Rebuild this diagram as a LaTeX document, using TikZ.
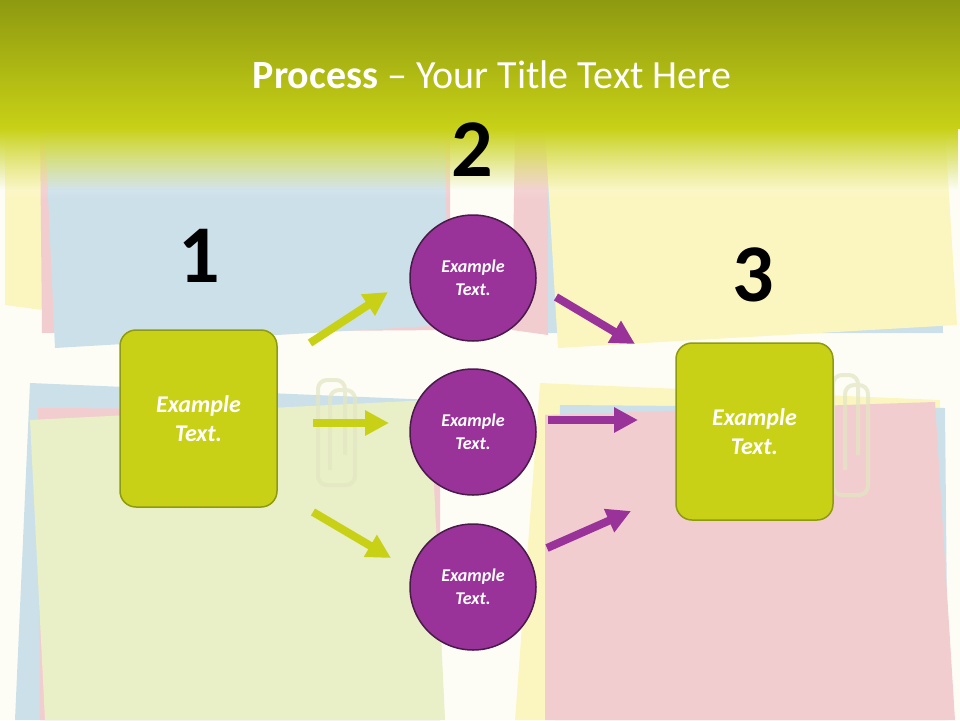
\documentclass[tikz,border=0pt]{standalone}
\usepackage{fontspec}
\setmainfont{Carlito}
\usetikzlibrary{arrows.meta,fadings}
\definecolor{lime}{HTML}{C8D116}
\definecolor{olive}{HTML}{8E9A10}
\definecolor{purp}{HTML}{993399}
\definecolor{dpurp}{HTML}{4A1A4A}
\definecolor{nyel}{HTML}{FBF6BF}
\definecolor{nblu}{HTML}{CCE0EA}
\definecolor{npnk}{HTML}{F2CDCF}
\definecolor{ngrn}{HTML}{E9EFC6}
\tikzset{
 sqbox/.style={draw=olive,line width=1.5pt,fill=lime,rounded corners=16pt,minimum width=157pt,minimum height=177pt,text=white,font=\bfseries\itshape\fontsize{24}{29}\selectfont,align=center},
 circ/.style={circle,draw=dpurp,line width=1.5pt,fill=purp,minimum size=126pt,inner sep=0pt,text=white,font=\bfseries\itshape\fontsize{18}{23}\selectfont,align=center},
 garr/.style={draw=lime,line width=8pt,-{Triangle[length=24pt,width=24pt]}},
 parr/.style={draw=purp,line width=8pt,-{Triangle[length=24pt,width=24pt]}},
 num/.style={font=\bfseries\fontsize{82}{82}\selectfont},
 clip/.style={draw=olive!25,line width=4pt,rounded corners=9pt,opacity=0.7}
}
\begin{document}
\begin{tikzpicture}[x=1pt,y=-1pt]
\useasboundingbox (0,0) rectangle (960,720);
\fill[white!96!lime] (0,0) rectangle (960,720);
% notes
\fill[nyel] (5,130)--(45,130)--(42,310)--(5,305)--cycle;
\fill[npnk] (40,130)--(450,130)--(450,330)--(42,333)--cycle;
\fill[nblu] (45,130)--(445,130)--(448,325)--(55,348)--cycle;
\fill[npnk] (515,130)--(548,130)--(548,335)--(512,330)--cycle;
\fill[nblu] (548,130)--(940,130)--(943,333)--(548,333)--cycle;
\fill[nyel] (545,130)--(945,130)--(957,325)--(558,348)--cycle;
\fill[nblu] (30,383)--(435,400)--(440,720)--(15,720)--cycle;
\fill[npnk] (38,408)--(440,410)--(440,720)--(40,720)--cycle;
\fill[ngrn] (30,420)--(430,400)--(445,720)--(45,720)--cycle;
\fill[nyel] (540,383)--(940,400)--(945,720)--(515,720)--cycle;
\fill[nblu] (560,405)--(945,408)--(948,720)--(555,720)--cycle;
\fill[npnk] (545,415)--(935,402)--(955,720)--(545,720)--cycle;
% header
\shade[top color=olive,bottom color=lime] (0,0) rectangle (960,128);
\fill[white,path fading=south,opacity=0.8] (0,128) rectangle (960,200);
\fill[lime,path fading=south] (0,128) rectangle (960,190);
\node[text=white,font=\fontsize{40}{46}\selectfont] (title) at (492,75) {\textbf{Process} -- Your Title Text Here};
% paperclips
\draw[clip] (330,470)--(330,390)--(355,390)--(355,485)--(318,485)--(318,380)--(345,380)--(345,455);
\draw[clip] (845,470)--(845,385)--(868,385)--(868,495)--(833,495)--(833,375)--(858,375)--(858,455);
% numbers
\node[num] (n1) at (199,256) {1};
\node[num] (n2) at (472,150) {2};
\node[num] (n3) at (753,275) {3};
% boxes
\node[sqbox] (b1) at (198.5,418.5) {Example\\Text.};
\node[sqbox] (b3) at (754.5,431.5) {Example\\Text.};
\node[circ] (c1) at (473,278) {Example\\Text.};
\node[circ] (c2) at (473,432) {Example\\Text.};
\node[circ] (c3) at (473,587) {Example\\Text.};
% arrows
\coordinate (g1s) at (310,343); \coordinate (g1e) at (388,292);
\coordinate (g2s) at (313,423); \coordinate (g2e) at (389,423);
\coordinate (g3s) at (313,512); \coordinate (g3e) at (391,558);
\coordinate (p1s) at (556,297); \coordinate (p1e) at (635,344);
\coordinate (p2s) at (548,420); \coordinate (p2e) at (638,420);
\coordinate (p3s) at (547,548); \coordinate (p3e) at (631,511);
\draw[garr] (g1s)--(g1e);
\draw[garr] (g2s)--(g2e);
\draw[garr] (g3s)--(g3e);
\draw[parr] (p1s)--(p1e);
\draw[parr] (p2s)--(p2e);
\draw[parr] (p3s)--(p3e);
\end{tikzpicture}
\end{document}
